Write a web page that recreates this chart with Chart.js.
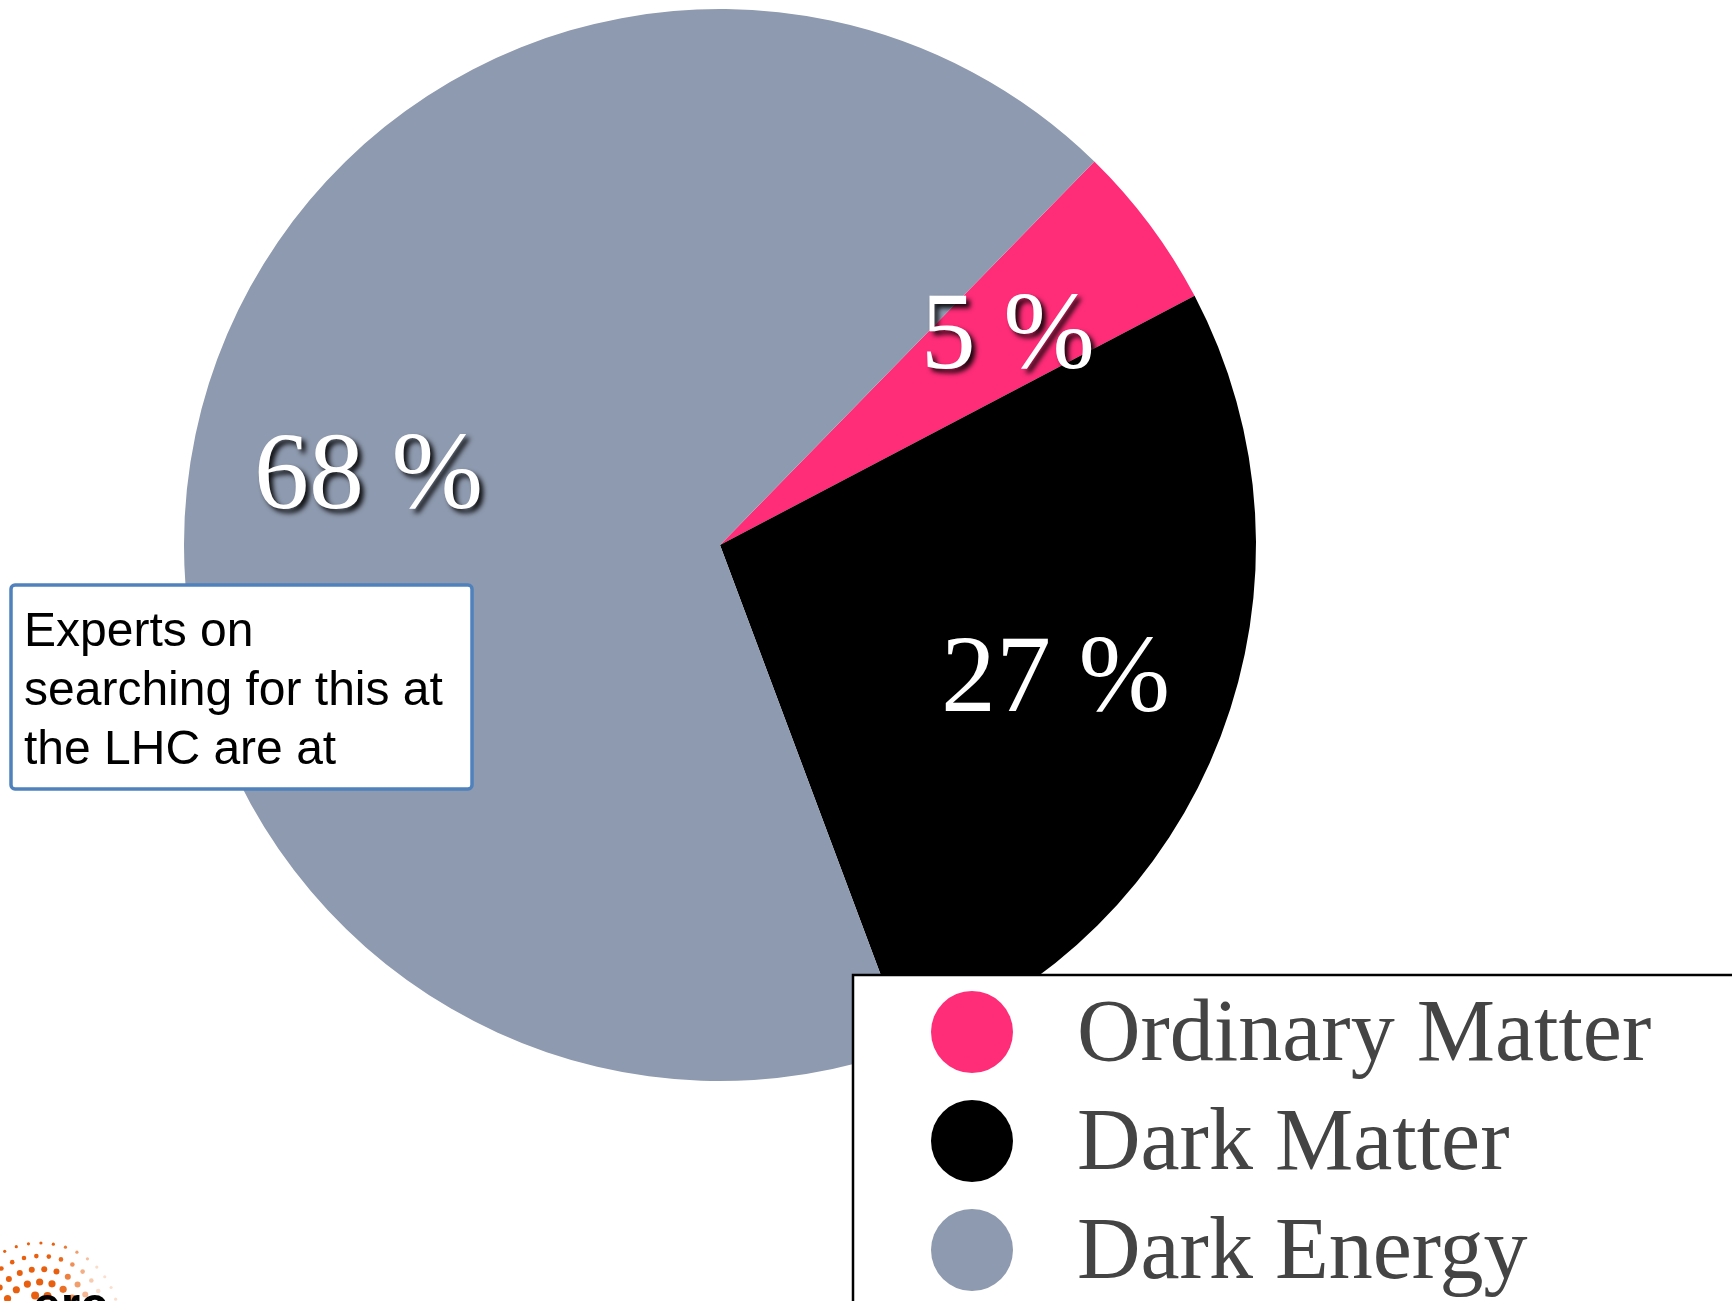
<!DOCTYPE html>
<html>
<head>
<meta charset="utf-8">
<script src="https://cdn.jsdelivr.net/npm/chart.js@4/dist/chart.umd.min.js"></script>
<style>
  html, body { margin: 0; padding: 0; background: #ffffff; }
  #wrap { position: relative; width: 1732px; height: 1301px; overflow: hidden; }
  canvas { display: block; }
</style>
</head>
<body>
<div id="wrap"><canvas id="c" width="1732" height="1301"></canvas></div>
<script>
// Composition of the universe
const categories = ['Ordinary Matter', 'Dark Matter', 'Dark Energy'];
const shares = [5, 27, 68];
const sliceColors = ['#FF2D78', '#000000', '#8E9AAF'];
const noteLines = ['Experts on', 'searching for this at', 'the LHC are at'];

// White percentage text with a soft drop shadow, placed inside each slice
const percentLabels = {
  id: 'percentLabels',
  afterDatasetsDraw(chart) {
    const ctx = chart.ctx;
    const arcs = chart.getDatasetMeta(0).data;
    const size = 110;
    ctx.save();
    ctx.font = size + 'px "Liberation Serif", "Times New Roman", serif';
    ctx.textAlign = 'center';
    ctx.textBaseline = 'alphabetic';
    ctx.fillStyle = '#ffffff';
    ctx.shadowColor = 'rgba(0,0,0,0.9)';
    ctx.shadowOffsetX = 4;
    ctx.shadowOffsetY = 4;
    ctx.shadowBlur = 5;
    arcs.forEach((arc, i) => {
      const p = arc.getProps(['x', 'y', 'startAngle', 'endAngle', 'outerRadius'], true);
      const mid = (p.startAngle + p.endAngle) / 2;
      const r = p.outerRadius * 0.67;
      const x = p.x + Math.cos(mid) * r;
      const y = p.y + Math.sin(mid) * r;
      ctx.fillText(shares[i] + ' %', x, y + size * 0.34);
    });
    ctx.restore();
  }
};

// Boxed legend in the lower right, running off the page edge
const boxLegend = {
  id: 'boxLegend',
  afterDraw(chart) {
    const ctx = chart.ctx;
    ctx.save();
    ctx.fillStyle = '#ffffff';
    ctx.fillRect(853, 975, 1000, 400);
    ctx.strokeStyle = '#000000';
    ctx.lineWidth = 2.5;
    ctx.strokeRect(853, 975, 1000, 400);
    ctx.font = '88px "Liberation Serif", "Times New Roman", serif';
    ctx.textBaseline = 'alphabetic';
    ctx.textAlign = 'left';
    categories.forEach((name, i) => {
      const cy = 1032 + i * 109;
      ctx.beginPath();
      ctx.arc(972, cy, 41, 0, Math.PI * 2);
      ctx.fillStyle = sliceColors[i];
      ctx.fill();
      ctx.fillStyle = '#444444';
      ctx.fillText(name, 1077, cy + 28);
    });
    ctx.restore();
  }
};

// Callout text box on the left
const noteBox = {
  id: 'noteBox',
  afterDraw(chart) {
    const ctx = chart.ctx;
    ctx.save();
    const x = 11, y = 585, w = 461, h = 204;
    ctx.beginPath();
    ctx.roundRect(x, y, w, h, 4);
    ctx.fillStyle = '#ffffff';
    ctx.fill();
    ctx.strokeStyle = '#4F81BD';
    ctx.lineWidth = 3.5;
    ctx.stroke();
    ctx.fillStyle = '#000000';
    ctx.font = '48px "Liberation Sans", Arial, sans-serif';
    ctx.textBaseline = 'alphabetic';
    noteLines.forEach((line, i) => {
      ctx.fillText(line, 24, 646 + i * 59);
    });
    ctx.restore();
  }
};

// Small dotted emblem with wordmark in the bottom-left corner
const cornerLogo = {
  id: 'cornerLogo',
  afterDraw(chart) {
    const ctx = chart.ctx;
    ctx.save();
    const cx = 40, cy = 1322;
    const rings = [14, 27, 40, 53, 66, 79];
    const dotSizes = [4.2, 4.0, 3.6, 3.0, 2.3, 1.6];
    rings.forEach((rr, ri) => {
      const step = 12.5 / rr;
      for (let a = Math.PI; a <= 2 * Math.PI + 1e-6; a += step) {
        const dx = cx + Math.cos(a) * rr;
        const dy = cy + Math.sin(a) * rr;
        if (dy > 1300) continue;
        const t = Math.min(1, Math.max(0, (dx - 58) / 40));
        ctx.fillStyle = t > 0 ? `rgba(232,96,15,${(1 - 0.8 * t).toFixed(2)})` : '#E8600F';
        ctx.beginPath();
        ctx.arc(dx, dy, dotSizes[ri], 0, Math.PI * 2);
        ctx.fill();
      }
    });
    ctx.fillStyle = '#000000';
    ctx.font = 'bold 50px "Liberation Sans", Arial, sans-serif';
    ctx.fillText('erc', 33, 1322);
    ctx.restore();
  }
};

new Chart(document.getElementById('c'), {
  type: 'pie',
  data: {
    labels: categories,
    datasets: [{
      data: shares,
      backgroundColor: sliceColors,
      borderWidth: 0
    }]
  },
  options: {
    responsive: false,
    devicePixelRatio: 1,
    animation: false,
    rotation: 44.3,
    layout: { padding: { left: 184, right: 476, top: 9, bottom: 220 } },
    plugins: {
      legend: { display: false },
      tooltip: { enabled: false }
    }
  },
  plugins: [percentLabels, noteBox, boxLegend, cornerLogo]
});
</script>
</body>
</html>
